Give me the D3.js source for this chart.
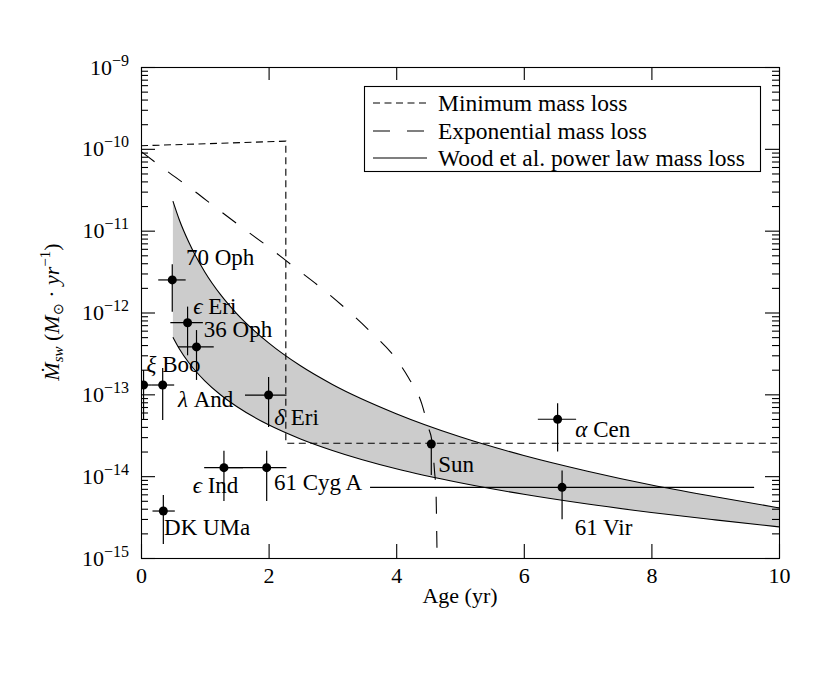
<!DOCTYPE html>
<html><head><meta charset="utf-8">
<script src="https://cdnjs.cloudflare.com/ajax/libs/d3/7.8.5/d3.min.js"></script>
<style>body{margin:0;background:#fff}</style>
</head><body><svg id="c" width="830" height="692"></svg>
<script>
// ---------- data ----------
const starNames = ["70 Oph","ϵ Eri","36 Oph","ξ Boo","λ And","δ Eri","ϵ Ind","61 Cyg A","DK UMa","Sun","α Cen","61 Vir"];
const starAge   = [0.49, 0.73, 0.87, 0.04, 0.34, 2.0, 1.3, 1.97, 0.35, 4.55, 6.53, 6.6];
const starAgeLo = [0.27, 0.46, 0.58, -0.1, 0.17, 1.63, 0.99, 1.35, 0.18, 4.55, 6.22, 3.59];
const starAgeHi = [0.70, 0.97, 1.14, 0.17, 0.52, 2.28, 1.6, 2.28, 0.53, 4.55, 6.82, 9.61];
const starRate   = [2.5e-12, 7.5e-13, 3.8e-13, 1.3e-13, 1.3e-13, 9.8e-14, 1.27e-14, 1.27e-14, 3.75e-15, 2.47e-14, 4.96e-14, 7.3e-15];
const starRateLo = [1.02e-12, 3.0e-13, 1.5e-13, 5.0e-14, 4.85e-14, 4.0e-14, 4.97e-15, 4.97e-15, 1.48e-15, 1.03e-14, 2.0e-14, 2.97e-15];
const starRateHi = [3.9e-12, 1.18e-12, 6.1e-13, 1.98e-13, 2.1e-13, 1.63e-13, 2.05e-14, 2.05e-14, 5.9e-15, 2.47e-14, 7.8e-14, 1.17e-14];

const minLossAge  = [0, 2.27, 2.27, 10];
const minLossRate = [1.09e-10, 1.24e-10, 2.52e-14, 2.52e-14];

const expLossAge  = [0, 0.4, 0.8, 1.2, 1.6, 2.0, 2.4, 2.8, 3.2, 3.6, 4.0, 4.2, 4.4, 4.5, 4.56, 4.6, 4.625, 4.635, 4.645];
const expLossRate = [9.3e-11, 5.4e-11, 3.2e-11, 1.84e-11, 1.07e-11, 6.3e-12, 3.6e-12, 2.07e-12, 1.13e-12, 5.8e-13, 2.7e-13, 1.56e-13, 7.7e-14, 4.0e-14, 2.7e-14, 1.17e-14, 6.0e-15, 2.1e-15, 6.3e-16];

const woodAge   = [0.5, 0.6, 0.75, 1, 1.25, 1.5, 2, 2.5, 3, 4, 5, 6, 7, 8, 9, 10];
const woodUpper = [2.3e-11, 1.36e-11, 7.2e-12, 3.13e-12, 1.64e-12, 9.7e-13, 4.25e-13, 2.23e-13, 1.32e-13, 5.8e-14, 3.03e-14, 1.79e-14, 1.15e-14, 7.8e-15, 5.6e-15, 4.1e-15];
const woodLower = [5.0e-13, 3.61e-13, 2.43e-13, 1.46e-13, 9.8e-14, 7.1e-14, 4.24e-14, 2.85e-14, 2.06e-14, 1.23e-14, 8.3e-15, 6.0e-15, 4.56e-15, 3.6e-15, 2.92e-15, 2.4e-15];

const xTicks = [0, 2, 4, 6, 8, 10];
const yTickExps = [-9, -10, -11, -12, -13, -14, -15];
const legendLabels = ["Minimum mass loss", "Exponential mass loss", "Wood et al. power law mass loss"];
const xLabel = "Age (yr)";

// label placement (pixels, relative to each point)
const labelDx = [13.7, 5.7, 7.3, 3, 15.3, 5.7, -31.3, 7.3, 0.7, 7, 17.7, 12.7];
const labelDy = [-15, -8.5, -9.5, -13.3, 21.7, 30, 25, 22.3, 24, 28, 17.4, 47.7];

// ---------- drawing ----------
const W = 830, H = 692;
const L = 141, R = 779, T = 67, B = 558;
const serif = "'Liberation Serif','Times New Roman',serif";
const svg = d3.select("#c");
svg.append("rect").attr("width", W).attr("height", H).attr("fill", "#fff");

const x = d3.scaleLinear().domain([0, 10]).range([L, R]);
const y = d3.scaleLog().domain([1e-15, 1e-9]).range([B, T]);

svg.append("defs").append("clipPath").attr("id", "plot")
  .append("rect").attr("x", L).attr("y", T).attr("width", R - L).attr("height", B - T);
const g = svg.append("g").attr("clip-path", "url(#plot)");

// Wood band
const wood = woodAge.map((a, i) => ({age: a, up: woodUpper[i], lo: woodLower[i]}));
g.append("path").datum(wood)
  .attr("d", d3.area().x(d => x(d.age)).y0(d => y(d.lo)).y1(d => y(d.up)).curve(d3.curveMonotoneX))
  .attr("fill", "#cccccc");
["up", "lo"].forEach(k => {
  g.append("path").datum(wood)
    .attr("d", d3.line().x(d => x(d.age)).y(d => y(d[k])).curve(d3.curveMonotoneX))
    .attr("fill", "none").attr("stroke", "#000").attr("stroke-width", 1.1);
});

// minimum mass loss
const minLoss = minLossAge.map((a, i) => ({age: a, rate: minLossRate[i]}));
g.append("path").datum(minLoss)
  .attr("d", d3.line().x(d => x(d.age)).y(d => y(d.rate)))
  .attr("fill", "none").attr("stroke", "#000").attr("stroke-width", 1.1)
  .attr("stroke-dasharray", "7,4.5");

// exponential mass loss
const expLoss = expLossAge.map((a, i) => ({age: a, rate: expLossRate[i]}));
g.append("path").datum(expLoss)
  .attr("d", d3.line().x(d => x(d.age)).y(d => y(d.rate)).curve(d3.curveMonotoneX))
  .attr("fill", "none").attr("stroke", "#000").attr("stroke-width", 1.1)
  .attr("stroke-dasharray", "17,17");

// stars
const stars = starNames.map((n, i) => ({
  name: n, age: starAge[i], a0: starAgeLo[i], a1: starAgeHi[i],
  rate: starRate[i], r0: starRateLo[i], r1: starRateHi[i], dx: labelDx[i], dy: labelDy[i]
}));
const sg = g.selectAll("g.star").data(stars).join("g").attr("class", "star");
sg.append("line").attr("x1", d => x(d.a0)).attr("x2", d => x(d.a1))
  .attr("y1", d => y(d.rate)).attr("y2", d => y(d.rate))
  .attr("stroke", "#000").attr("stroke-width", 1.2);
sg.append("line").attr("x1", d => x(d.age)).attr("x2", d => x(d.age))
  .attr("y1", d => y(d.r0)).attr("y2", d => y(d.r1))
  .attr("stroke", "#000").attr("stroke-width", 1.2);
sg.append("circle").attr("cx", d => x(d.age)).attr("cy", d => y(d.rate)).attr("r", 4.5).attr("fill", "#000");

// star labels
const greek = /[\u0370-\u03FF]/;
stars.forEach(d => {
  const t = svg.append("text")
    .attr("x", x(d.age) + d.dx).attr("y", y(d.rate) + d.dy)
    .attr("font-family", serif).attr("font-size", 23).attr("fill", "#000");
  if (greek.test(d.name[0])) {
    t.append("tspan").attr("font-style", "italic").text(d.name[0]);
    t.append("tspan").text(d.name.slice(1));
  } else t.text(d.name);
});

// axes
function styleAxis(sel) {
  sel.select(".domain").remove();
  sel.selectAll(".tick line").attr("stroke", "#000").attr("stroke-width", 1.1);
  sel.selectAll("text").attr("font-family", serif).attr("font-size", 22).attr("fill", "#000");
}
svg.append("g").attr("transform", `translate(0,${B})`)
  .call(d3.axisBottom(x).tickValues(xTicks).tickSize(-14).tickSizeOuter(0).tickPadding(9.5).tickFormat(d3.format("d")))
  .call(styleAxis);
svg.append("g").attr("transform", `translate(0,${T})`)
  .call(d3.axisTop(x).tickValues(xTicks).tickSize(-13).tickSizeOuter(0).tickFormat(""))
  .call(styleAxis);

const yMajor = yTickExps.map(e => Math.pow(10, e));
const yMinor = y.ticks().filter(v => Math.abs(Math.log10(v) - Math.round(Math.log10(v))) > 1e-6);

const yl = svg.append("g").attr("transform", `translate(${L},0)`)
  .call(d3.axisLeft(y).tickValues(yMajor).tickSize(-14).tickSizeOuter(0).tickPadding(12))
  .call(styleAxis);
yl.selectAll(".tick text").each(function(d) {
  const t = d3.select(this);
  const e = Math.round(Math.log10(d));
  t.text(null);
  t.append("tspan").text("10");
  t.append("tspan").attr("dy", "-9").attr("font-size", 16).text("\u2212" + (-e));
});
svg.append("g").attr("transform", `translate(${L},0)`)
  .call(d3.axisLeft(y).tickValues(yMinor).tickSize(-7).tickSizeOuter(0).tickFormat(""))
  .call(styleAxis);
svg.append("g").attr("transform", `translate(${R},0)`)
  .call(d3.axisRight(y).tickValues(yMajor).tickSize(-14).tickSizeOuter(0).tickFormat(""))
  .call(styleAxis);
svg.append("g").attr("transform", `translate(${R},0)`)
  .call(d3.axisRight(y).tickValues(yMinor).tickSize(-7).tickSizeOuter(0).tickFormat(""))
  .call(styleAxis);

// frame
svg.append("rect").attr("x", L + 0.5).attr("y", T + 0.5).attr("width", R - L).attr("height", B - T)
  .attr("fill", "none").attr("stroke", "#000").attr("stroke-width", 1.1);

// axis labels
svg.append("text").attr("x", (L + R) / 2).attr("y", 603).attr("text-anchor", "middle")
  .attr("font-family", serif).attr("font-size", 22).text(xLabel);

const yt = svg.append("text").attr("transform", "translate(59,312) rotate(-90)")
  .attr("text-anchor", "middle").attr("font-family", serif).attr("font-size", 22);
yt.append("tspan").attr("font-style", "italic").text("\u1E40");
yt.append("tspan").attr("font-style", "italic").attr("font-size", 15).attr("dy", 4).text("sw");
yt.append("tspan").attr("dy", -4).text(" (");
yt.append("tspan").attr("font-style", "italic").text("M");
yt.append("tspan").attr("font-size", 14).attr("dy", 4).text("\u2299");
yt.append("tspan").attr("dy", -4).text(" \u00B7 ");
yt.append("tspan").attr("font-style", "italic").text("yr");
yt.append("tspan").attr("font-size", 15).attr("dy", -9).text("\u22121");
yt.append("tspan").attr("dy", 9).text(")");

// legend
const lg = svg.append("g");
lg.append("rect").attr("x", 364.5).attr("y", 86.5).attr("width", 396).attr("height", 85)
  .attr("fill", "#fff").attr("stroke", "#000").attr("stroke-width", 1.1);
const dashes = ["7,4.5", "17,17", null];
const rowY = [103, 131, 158];
legendLabels.forEach((lab, i) => {
  lg.append("line").attr("x1", 373).attr("x2", 427).attr("y1", rowY[i]).attr("y2", rowY[i])
    .attr("stroke", "#000").attr("stroke-width", 1.1).attr("stroke-dasharray", dashes[i]);
  lg.append("text").attr("x", 438).attr("y", rowY[i] + 7.5)
    .attr("font-family", serif).attr("font-size", 23.5).text(lab);
});
</script>
</body></html>
